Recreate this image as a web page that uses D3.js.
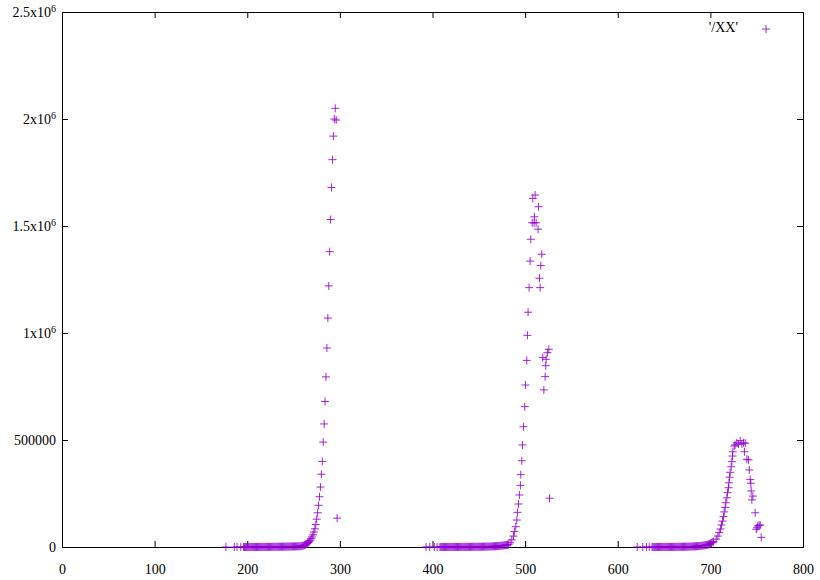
<!DOCTYPE html>
<html>
<head>
<meta charset="utf-8">
<script src="https://cdn.jsdelivr.net/npm/d3@7"></script>
<style>
  html, body { margin: 0; padding: 0; background: #fff; }
  svg text { font-family: "Liberation Serif", "DejaVu Serif", serif; }
</style>
</head>
<body>
<svg id="chart" width="820" height="580"></svg>
<script>
// ---------- data ----------
const xTicks = [0, 100, 200, 300, 400, 500, 600, 700, 800];
const yTicks = [0, 500000, 1000000, 1500000, 2000000, 2500000];
const yTickLabels = [["0", ""], ["500000", ""], ["1x10", "6"], ["1.5x10", "6"], ["2x10", "6"], ["2.5x10", "6"]];
const seriesName = "'/XX'";

// isolated early points (value ~0)
const sparseX = [177, 186, 189, 193, 196, 393, 397, 402, 405, 621, 627, 631, 634, 637];
const sparseY = [0, 0, 0, 0, 0, 0, 0, 0, 0, 0, 0, 0, 0, 0];

// wave 1: one value per day starting at wave1Start
const wave1Start = 197;
const wave1 = [
  0,0,0,0,0,100,100,100,100,100,
  100,200,200,200,200,200,300,300,300,300,
  400,400,400,500,500,500,600,600,700,700,
  700,800,800,900,900,1000,1000,1100,1200,1200,
  1300,1400,1500,1600,1700,1800,1900,2000,2100,2200,
  2300,2400,2500,2600,2700,2800,2900,3000,3200,3400,
  3700,
  4000,5000,6000,7000,9000,11000,14000,17000,21000,26000,
  32000,39000,47000,57000,70000,85000,105000,130000,160000,195000,
  235000,280000,340000,400000,490000,575000,680000,795000,930000,1070000,
  1220000,1380000,1530000,1680000,1810000,1920000,2000000,2050000,1995000,135000
];

// wave 2: flat part (one value per day) then measured points
const wave2Start = 408;
const wave2Flat = [
  0,0,0,0,0,0,100,100,100,100,
  100,200,200,200,200,200,300,300,300,300,
  300,400,400,400,500,500,500,500,600,600,
  600,700,700,700,800,800,900,900,1000,1000,
  1100,1100,1200,1300,1300,1400,1500,1600,1700,1800,
  1900,2000,2100,2300,2400,2600,2800,3000,3200,3400,
  3700,4000,4300,4600,5000,5400,5800,6300,6800,7400,
  8000,8700,9500,10500,11500
];
const wave2X = [483.8,485.6,487.4,488.4,489.9,491.0,491.7,492.8,493.8,494.9,495.3,496.4,497.1,498.2,499.6,500.3,501.8,502.5,503.2,504.3,505.4,506.1,507.6,508.3,509.7,510.0,510.8,511.9,514.0,514.4,515.5,516.2,516.9,518.0,519.1,520.2,521.6,522.3,522.7,524.1,525.6,526.3];
const wave2Y = [20000,33000,51000,72000,95000,126000,162000,201000,243000,288000,338000,403000,477000,562000,656000,757000,872000,989000,1097000,1212000,1336000,1438000,1515000,1629000,1515000,1543000,1645000,1515000,1485000,1590000,1256000,1212000,1315000,1368000,885000,734000,796000,847000,877000,908000,924000,228000];

// wave 3: flat part then measured points
const wave3Start = 638;
const wave3Flat = [
  0,0,0,0,100,100,100,100,100,200,
  200,200,200,300,300,300,300,400,400,400,
  500,500,500,600,600,700,700,800,800,900,
  900,1000,1100,1200,1300,1400,1500,1600,1700,1900,
  2000,2200,2400,2600,2800,3000,3300,3600,3900,4200,
  4600,5000,5500,6000,6600,7200,7900,8700,9600,10600,
  11800,13200
];
const wave3X = [700,701,702,703.4,706.3,708.1,709.5,710.9,712.0,713.1,714.2,714.9,716.0,716.7,717.8,718.5,719.6,720.0,720.7,721.4,722.5,723.2,723.9,724.2,725.7,726.7,728.5,730.3,732.2,734.0,735.8,736.8,737.6,739.4,741.1,742.0,743.0,743.7,744.1,744.8,745.9,748.4,749.5,750.4,751.2,752.6,753.8,754.9];
const wave3Y = [17000,19000,22000,25000,37000,51000,67000,84000,103000,121000,142000,164000,185000,207000,230000,254000,277000,300000,326000,349000,375000,399000,425000,445000,472000,477000,487000,481000,497000,481000,487000,445000,485000,410000,407000,360000,316000,298000,262000,220000,238000,160000,83000,90000,98000,101000,103000,45000];

// ---------- build point list ----------
const points = [];
sparseX.forEach((x, i) => points.push([x, sparseY[i]]));
wave1.forEach((v, i) => points.push([wave1Start + i, v]));
wave2Flat.forEach((v, i) => points.push([wave2Start + i, v]));
wave2X.forEach((x, i) => points.push([x, wave2Y[i]]));
wave3Flat.forEach((v, i) => points.push([wave3Start + i, v]));
wave3X.forEach((x, i) => points.push([x, wave3Y[i]]));

// ---------- layout ----------
const margin = { left: 62, right: 17, top: 12, bottom: 33 };
const W = 820, H = 580;
const svg = d3.select("#chart");
svg.append("rect").attr("width", W).attr("height", H).attr("fill", "#fff");

const x = d3.scaleLinear().domain([0, 800]).range([margin.left, W - margin.right]);
const y = d3.scaleLinear().domain([0, 2500000]).range([H - margin.bottom, margin.top]);

const color = "#9400d3";
const tickLen = 6;

// axes via d3 (inner ticks), then custom labels
const gx = svg.append("g").attr("transform", `translate(0,${y(0)})`)
  .call(d3.axisBottom(x).tickValues(xTicks).tickSizeInner(-tickLen).tickSizeOuter(0).tickFormat(d3.format("d")));
gx.select(".domain").remove();
gx.selectAll("line").attr("stroke", "#000");
gx.selectAll("text").attr("fill", "#000").attr("font-size", 14)
  .attr("font-family", "Liberation Serif, serif").attr("y", 17).attr("dy", "0.71em");

const gxTop = svg.append("g").attr("transform", `translate(0,${y(2500000)})`)
  .call(d3.axisTop(x).tickValues(xTicks).tickSizeInner(-tickLen).tickSizeOuter(0).tickFormat(""));
gxTop.select(".domain").remove();
gxTop.selectAll("line").attr("stroke", "#000");

const gy = svg.append("g").attr("transform", `translate(${x(0)},0)`)
  .call(d3.axisLeft(y).tickValues(yTicks).tickSizeInner(-tickLen).tickSizeOuter(0).tickFormat(""));
gy.select(".domain").remove();
gy.selectAll("line").attr("stroke", "#000");

const gyR = svg.append("g").attr("transform", `translate(${x(800)},0)`)
  .call(d3.axisRight(y).tickValues(yTicks).tickSizeInner(-tickLen).tickSizeOuter(0).tickFormat(""));
gyR.select(".domain").remove();
gyR.selectAll("line").attr("stroke", "#000");

// y labels with superscripts
yTicks.forEach((v, i) => {
  const t = svg.append("text")
    .attr("x", x(0) - 6)
    .attr("y", y(v) + 4.5)
    .attr("text-anchor", "end")
    .attr("font-size", 14)
    .attr("fill", "#000");
  t.append("tspan").text(yTickLabels[i][0]);
  if (yTickLabels[i][1]) {
    t.append("tspan").attr("dy", -5).attr("font-size", 10).text(yTickLabels[i][1]);
  }
});

// border
svg.append("rect")
  .attr("x", x(0) + 0.5).attr("y", y(2500000) + 0.5)
  .attr("width", x(800) - x(0)).attr("height", y(0) - y(2500000))
  .attr("fill", "none").attr("stroke", "#000").attr("stroke-width", 1);

// points as '+'
const s = 4;
const plus = (px, py) => `M${px - s},${py}H${px + s}M${px},${py - s}V${py + s}`;
svg.append("path")
  .attr("d", points.map(p => plus(x(p[0]), y(p[1]))).join(""))
  .attr("fill", "none").attr("stroke", color).attr("stroke-width", 1).attr("opacity", 0.85);

// legend
svg.append("text").attr("x", 738).attr("y", 32).attr("text-anchor", "end")
  .attr("font-size", 14).attr("fill", "#000").text(seriesName);
svg.append("path").attr("d", plus(766, 29))
  .attr("fill", "none").attr("stroke", color).attr("stroke-width", 1).attr("opacity", 0.85);
</script>
</body>
</html>
